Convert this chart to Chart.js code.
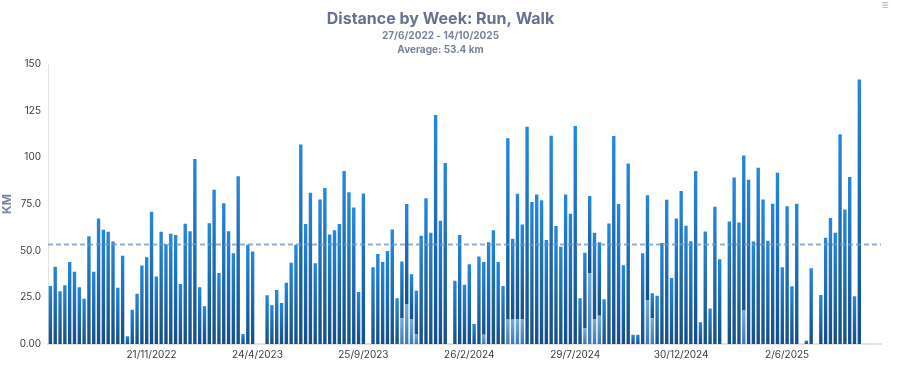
<!DOCTYPE html>
<html>
<head>
<meta charset="utf-8">
<title>Distance by Week</title>
<script src="https://cdn.jsdelivr.net/npm/chart.js@4.4.1/dist/chart.umd.min.js"></script>
<style>
  body { margin: 0; background: #ffffff; }
  #wrap { width: 904px; height: 374px; position: relative; }
</style>
</head>
<body>
<div id="wrap"><canvas id="myChart"></canvas></div>
<script>
// weekly distance, km (week starting 27/6/2022, 173 weeks)
var runKm = [
  31.1, 41.4, 28.3, 31.5, 43.9, 38.7, 30.4, 24.3, 57.8, 38.8,
  67.3, 61.2, 60.2, 55.0, 30.1, 47.3, 4.1, 18.3, 27.0, 42.1,
  46.5, 70.9, 36.2, 60.2, 53.5, 59.1, 58.5, 32.2, 64.4, 60.5,
  99.2, 30.4, 20.2, 64.8, 82.7, 38.1, 75.5, 60.5, 48.7, 89.9,
  5.4, 53.2, 49.6, 0, 0, 26.1, 20.8, 29.0, 22.0, 32.8,
  43.5, 53.2, 106.9, 64.3, 81.1, 43.3, 77.5, 83.6, 58.7, 61.0,
  64.3, 92.7, 81.3, 73.2, 27.9, 80.7, 0, 41.2, 48.3, 44.0,
  49.9, 61.4, 24.5, 30.4, 53.5, 24.0, 23.1, 58.0, 78.1, 59.6,
  122.8, 66.1, 97.0, 0, 33.9, 58.4, 31.7, 42.8, 10.7, 46.9,
  39.0, 54.6, 61.0, 44.0, 31.1, 96.9, 43.0, 67.2, 50.7, 116.5,
  76.1, 80.2, 77.0, 55.7, 111.7, 63.2, 52.1, 80.2, 69.8, 116.9,
  24.5, 40.3, 41.2, 46.5, 39.4, 24.0, 64.6, 111.5, 75.0, 42.2,
  96.7, 5.0, 5.0, 48.7, 56.4, 13.4, 25.8, 54.1, 77.3, 35.4,
  67.3, 82.0, 63.4, 55.1, 92.7, 11.6, 60.3, 19.0, 73.6, 45.5,
  0, 65.7, 89.2, 65.2, 83.1, 88.1, 55.0, 94.5, 77.5, 55.3,
  75.2, 91.8, 41.2, 73.8, 31.0, 75.2, 0, 1.8, 40.6, 0,
  26.3, 56.9, 67.5, 59.6, 112.4, 72.1, 89.5, 25.6, 141.8, 0,
  0, 0, 0
];
var walkKm = [
  0, 0, 0, 0, 0, 0, 0, 0, 0, 0,
  0, 0, 0, 0, 0, 0, 0, 0, 0, 0,
  0, 0, 0, 0, 0, 0, 0, 0, 0, 0,
  0, 0, 0, 0, 0, 0, 0, 0, 0, 0,
  0, 0, 0, 0, 0, 0, 0, 0, 0, 0,
  0, 0, 0, 0, 0, 0, 0, 0, 0, 0,
  0, 0, 0, 0, 0, 0, 0, 0, 0, 0,
  0, 0, 0, 13.8, 21.5, 13.4, 5.4, 0, 0, 0,
  0, 0, 0, 0, 0, 0, 0, 0, 0, 0,
  5.0, 0, 0, 0, 0, 13.4, 13.4, 13.4, 13.4, 0,
  0, 0, 0, 0, 0, 0, 0, 0, 0, 0,
  0, 8.6, 38.1, 13.1, 15.2, 0, 0, 0, 0, 0,
  0, 0, 0, 0, 23.3, 13.8, 0, 0, 0, 0,
  0, 0, 0, 0, 0, 0, 0, 0, 0, 0,
  0, 0, 0, 0, 17.9, 0, 0, 0, 0, 0,
  0, 0, 0, 0, 0, 0, 0, 0, 0, 0,
  0, 0, 0, 0, 0, 0, 0, 0, 0, 0,
  0, 0, 0
];
var averageKm = 53.4;
var dateRange = '27/6/2022 - 14/10/2025';
var firstWeek = Date.UTC(2022, 5, 27);
var xTickLabels = ['21/11/2022', '24/4/2023', '25/9/2023', '26/2/2024', '29/7/2024', '30/12/2024', '2/6/2025'];
var yTickValues = [0, 25, 50, 75, 100, 125, 150];
var yTickLabels = ['0.00', '25.0', '50.0', '75.0', '100', '125', '150'];

var weeks = [];
for (var i = 0; i < runKm.length; i++) {
  var d = new Date(firstWeek + i * 7 * 86400000);
  weeks.push(d.getUTCDate() + '/' + (d.getUTCMonth() + 1) + '/' + d.getUTCFullYear());
}

var FONT = 'Inter, Roboto, "Noto Sans", sans-serif';

// each bar segment gets its own top->bottom gradient
function segmentFill(topColor, bottomColor, lowerOf) {
  return function(c) {
    var chart = c.chart;
    var y = chart.scales && chart.scales.y;
    if (c.type !== 'data' || !chart.chartArea || !y) return bottomColor;
    var i = c.dataIndex;
    var base = lowerOf ? lowerOf[i] : 0;
    var top = base + c.dataset.data[i];
    var y0 = y.getPixelForValue(top);
    var y1 = y.getPixelForValue(base);
    if (!(y1 - y0 > 0.5)) return bottomColor;
    var g = chart.ctx.createLinearGradient(0, y0, 0, y1);
    g.addColorStop(0, topColor);
    g.addColorStop(1, bottomColor);
    return g;
  };
}

var averageLine = {
  id: 'averageLine',
  afterDatasetsDraw: function(chart) {
    var ctx = chart.ctx, a = chart.chartArea;
    var yy = chart.scales.y.getPixelForValue(averageKm);
    ctx.save();
    ctx.strokeStyle = 'rgba(110,150,190,0.75)';
    ctx.lineWidth = 2;
    ctx.setLineDash([5, 3]);
    ctx.beginPath();
    ctx.moveTo(a.left, yy);
    ctx.lineTo(a.right, yy);
    ctx.stroke();
    ctx.restore();
  },
  afterDraw: function(chart) {
    var ctx = chart.ctx;
    ctx.save();
    ctx.fillStyle = '#b0b4ba';
    ctx.font = '12px ' + FONT;
    ctx.textAlign = 'center';
    ctx.textBaseline = 'middle';
    ctx.fillText('\u2261', 885, 5);
    ctx.restore();
  }
};

var ctx = document.getElementById('myChart').getContext('2d');
var myChart = new Chart(ctx, {
  type: 'bar',
  data: {
    labels: weeks,
    datasets: [{
      label: 'Walk',
      data: walkKm,
      backgroundColor: segmentFill('rgb(112,170,224)', 'rgb(62,120,176)', null),
      barPercentage: 0.7,
      categoryPercentage: 1.0
    },
    {
      label: 'Run',
      data: runKm,
      backgroundColor: segmentFill('rgb(36,136,222)', 'rgb(20,78,136)', walkKm),
      barPercentage: 0.7,
      categoryPercentage: 1.0
    }]
  },
  plugins: [averageLine],
  options: {
    responsive: true,
    maintainAspectRatio: false,
    animation: false,
    layout: { padding: { left: 0, right: 23, top: 0, bottom: 8 } },
    plugins: {
      legend: { display: false },
      tooltip: { enabled: false },
      title: {
        display: true,
        text: 'Distance by Week: Run, Walk',
        color: '#66718f',
        font: { family: FONT, size: 16, weight: 'bold' },
        padding: { top: 10, bottom: 0 }
      },
      subtitle: {
        display: true,
        text: [dateRange, 'Average: ' + averageKm + ' km'],
        color: '#7a839c',
        font: { family: FONT, size: 10, weight: 'bold', lineHeight: 1.4 },
        padding: { top: 0, bottom: 7 }
      }
    },
    scales: {
      x: {
        stacked: true,
        offset: true,
        grid: { display: false, drawTicks: false },
        border: { display: true, color: '#e2e2e2', width: 2 },
        ticks: {
          autoSkip: false,
          maxRotation: 0,
          padding: 5,
          color: '#373d3f',
          font: { family: FONT, size: 10 },
          callback: function(value) {
            var lab = this.getLabelForValue(value);
            return xTickLabels.indexOf(lab) >= 0 ? lab : '';
          }
        }
      },
      y: {
        stacked: true,
        min: 0,
        max: 150,
        grid: { display: false, drawTicks: false },
        border: { display: true, color: '#e2e2e2', width: 1 },
        ticks: {
          stepSize: 25,
          padding: 7,
          color: '#373d3f',
          font: { family: FONT, size: 10 },
          callback: function(value) {
            var k = yTickValues.indexOf(value);
            return k >= 0 ? yTickLabels[k] : '';
          }
        },
        title: {
          display: true,
          text: 'KM',
          color: '#7a86a4',
          font: { family: FONT, size: 12, weight: 'bold' },
          padding: { top: 0, bottom: 0 }
        },
        afterFit: function(scale) { scale.width = 48; }
      }
    }
  }
});
</script>
</body>
</html>
